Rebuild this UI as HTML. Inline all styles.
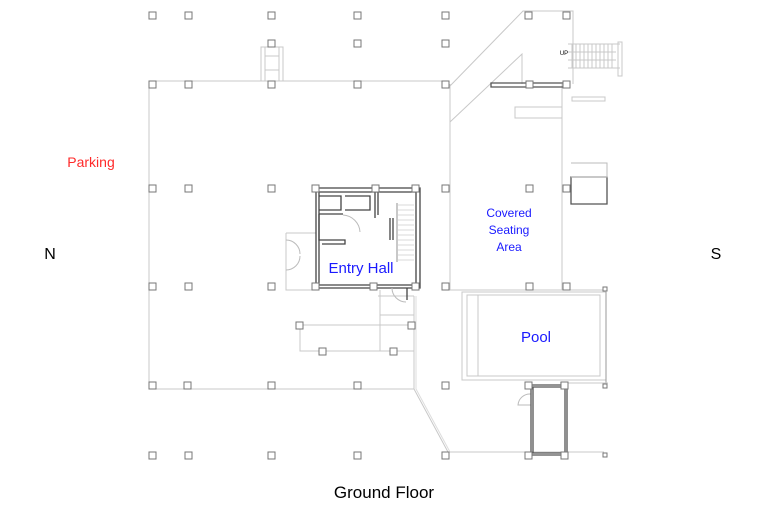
<!DOCTYPE html>
<html><head><meta charset="utf-8"><style>
body{margin:0;background:#fff}
svg{display:block}
text{font-family:"Liberation Sans",sans-serif}
</style></head><body>
<svg width="768" height="512" viewBox="0 0 768 512" xmlns="http://www.w3.org/2000/svg">
<g fill="none" stroke="#c8c8c8" stroke-width="1">
  <!-- main outline -->
  <path d="M149,389 V81 H446"/>
  <path d="M149,389 H414"/>
  <path d="M414,296 V389 L448,452 H562"/>
  <path d="M416,296 V389 L450,452" stroke="#ddd"/>
  <!-- diagonal upper -->
  <path d="M449,87 L523,11 H573 V84"/>
  <path d="M450,122 L522,54 V84"/>
  <path d="M450,84 V290"/>
  <path d="M562,84 V290"/>
  <path d="M446,290 H600"/>
  <path d="M515,107 H562 V118 H515 Z"/>
  <path d="M572,97 H605 V101 H572 Z"/>
  <!-- stairs top right -->
  <path d="M568,44 H620 M568,68 H620"/>
  <path d="M572,44 V68 M576,44 V68 M580,44 V68 M584,44 V68 M588,44 V68 M592,44 V68 M596,44 V68 M600,44 V68 M604,44 V68 M608,44 V68 M612,44 V68 M568,52 H616 M568,60 H616"/>
  <path d="M618,42 H622 V76 H618 Z"/>
  <!-- small stair top left -->
  <path d="M261,47 H283 V81 H261 Z M265,47 V81 M279,47 V81 M265,56 H279 M265,70 H279"/>
  <!-- entry porch -->
  <path d="M286,233 H316 M286,233 V290 H316"/>
  <path d="M299,325 H414 M300,325 V351 H414 M380,290 V351 M380,315 H414 M378,296 H414"/>
  <!-- pool -->
  <path d="M462,292 H606 V380 H462 Z"/>
  <path d="M467,295 H600 V376 H467 Z"/>
  <path d="M478,295 V376"/>
  <path d="M606,292 V383" stroke="#999"/>
  <path d="M560,383 H608 M600,290 H606"/>
  <!-- door arc pool -->
  <path d="M531,394 A12,12 0 0 0 518,405 H531" stroke="#bbb"/>
  <path d="M562,452 H604"/>
</g>
<!-- entry hall walls -->
<g fill="none" stroke="#444" stroke-width="1.3">
  <path d="M316,188 H420 V288 H316 Z"/>
  <path d="M319,192 H416 V285 H319 Z"/>
  <path d="M375,188 V218 M378,192 V215"/>
  <path d="M319,196 H341 V210 H319 M345,196 H370 V210 H345"/>
  <path d="M319,214 H343 M319,214 V240 H345 V244 H322"/>
  <path d="M390,218 V240 M393,218 V240"/>
  <path d="M398,205 H414 M398,210 H414 M398,215 H414 M398,220 H414 M398,225 H414 M398,230 H414 M398,235 H414 M398,240 H414 M398,245 H414 M398,250 H414 M398,255 H414 M398,260 H414" stroke="#ccc" stroke-width="0.8"/>
  <path d="M397,203 V262" stroke="#aaa"/>
  <path d="M407,288 V300" />
  <!-- pool house -->
  <path d="M531,385 H567 V455 H531 Z M533,387 H565 V453 H533 Z" stroke="#555"/>
  <!-- top beam -->
  <path d="M491,83 H568 V87 H491 Z" stroke="#555"/>
  <!-- box right -->
  <path d="M571,177 H607 V204 H571 Z" stroke="#555"/>
</g>
<g fill="none" stroke="#bbb">
  <path d="M571,163 H607 V177 H571"/>
  <path d="M343,215 A18,18 0 0 1 360,232" />
  <path d="M286,240 A14,14 0 0 1 300,254 M286,270 A14,14 0 0 0 300,256"/>
  <path d="M392,288 A14,14 0 0 0 406,302"/>
</g>
<!-- columns -->
<g fill="#fff" stroke="#777" stroke-width="1">
  <rect x="149" y="12" width="7" height="7"/><rect x="185" y="12" width="7" height="7"/><rect x="268" y="12" width="7" height="7"/><rect x="354" y="12" width="7" height="7"/><rect x="442" y="12" width="7" height="7"/><rect x="525" y="12" width="7" height="7"/><rect x="563" y="12" width="7" height="7"/>
  <rect x="268" y="40" width="7" height="7"/><rect x="354" y="40" width="7" height="7"/><rect x="442" y="40" width="7" height="7"/>
  <rect x="149" y="81" width="7" height="7"/><rect x="185" y="81" width="7" height="7"/><rect x="268" y="81" width="7" height="7"/><rect x="354" y="81" width="7" height="7"/><rect x="442" y="81" width="7" height="7"/><rect x="526" y="81" width="7" height="7"/><rect x="563" y="81" width="7" height="7"/>
  <rect x="149" y="185" width="7" height="7"/><rect x="185" y="185" width="7" height="7"/><rect x="268" y="185" width="7" height="7"/><rect x="312" y="185" width="7" height="7"/><rect x="372" y="185" width="7" height="7"/><rect x="412" y="185" width="7" height="7"/><rect x="442" y="185" width="7" height="7"/><rect x="526" y="185" width="7" height="7"/><rect x="563" y="185" width="7" height="7"/>
  <rect x="149" y="283" width="7" height="7"/><rect x="185" y="283" width="7" height="7"/><rect x="268" y="283" width="7" height="7"/><rect x="312" y="283" width="7" height="7"/><rect x="370" y="283" width="7" height="7"/><rect x="412" y="283" width="7" height="7"/><rect x="442" y="283" width="7" height="7"/><rect x="526" y="283" width="7" height="7"/><rect x="563" y="283" width="7" height="7"/>
  <rect x="296" y="322" width="7" height="7"/><rect x="408" y="322" width="7" height="7"/><rect x="319" y="348" width="7" height="7"/><rect x="390" y="348" width="7" height="7"/>
  <rect x="149" y="382" width="7" height="7"/><rect x="184" y="382" width="7" height="7"/><rect x="268" y="382" width="7" height="7"/><rect x="354" y="382" width="7" height="7"/><rect x="442" y="382" width="7" height="7"/><rect x="525" y="382" width="7" height="7"/><rect x="561" y="382" width="7" height="7"/>
  <rect x="149" y="452" width="7" height="7"/><rect x="185" y="452" width="7" height="7"/><rect x="268" y="452" width="7" height="7"/><rect x="354" y="452" width="7" height="7"/><rect x="442" y="452" width="7" height="7"/><rect x="525" y="452" width="7" height="7"/><rect x="561" y="452" width="7" height="7"/>
  <rect x="603" y="453" width="4" height="4"/><rect x="603" y="287" width="4" height="4"/><rect x="603" y="384" width="4" height="4"/>
</g>
<text x="91" y="167" font-size="14" fill="#ff2a2a" text-anchor="middle">Parking</text>
<text x="50" y="259" font-size="16" fill="#000" text-anchor="middle">N</text>
<text x="716" y="259" font-size="16" fill="#000" text-anchor="middle">S</text>
<text x="361" y="273" font-size="15" fill="#1a1aff" text-anchor="middle">Entry Hall</text>
<text x="509" y="217" font-size="12" fill="#1a1aff" text-anchor="middle">Covered</text>
<text x="509" y="234" font-size="12" fill="#1a1aff" text-anchor="middle">Seating</text>
<text x="509" y="251" font-size="12" fill="#1a1aff" text-anchor="middle">Area</text>
<text x="536" y="342" font-size="15" fill="#1a1aff" text-anchor="middle">Pool</text>
<text x="564" y="55" font-size="6" fill="#000" text-anchor="middle">UP</text>
<text x="384" y="498" font-size="17" fill="#000" text-anchor="middle">Ground Floor</text>
</svg>
</body></html>
